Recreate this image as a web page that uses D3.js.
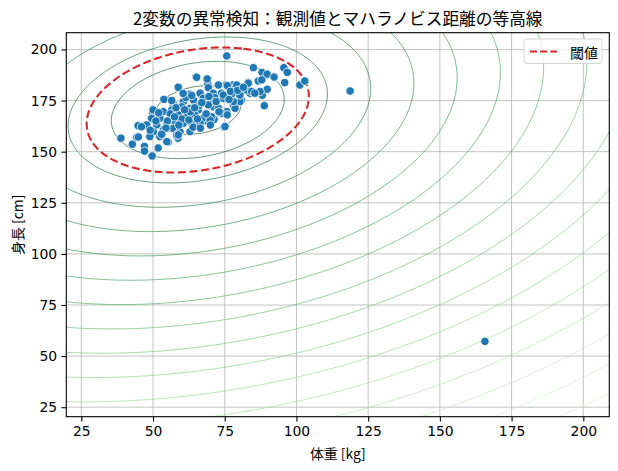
<!DOCTYPE html>
<html>
<head>
<meta charset="utf-8">
<script src="https://cdn.jsdelivr.net/npm/d3@7"></script>
<style>
  body { margin: 0; background: #fff; }
  svg { display: block; }
  text { font-family: "DejaVu Sans", "Noto Sans CJK JP", sans-serif; }
</style>
</head>
<body>
<div id="chart"></div>
<script>
const weightKg = [
  38.8, 42.8, 44.3, 44.9, 47.0, 47.0, 49.7, 51.8, 44.8, 47.8, 49.9, 49.9, 53.8, 58.8, 65.0, 68.8,
  69.1, 75.7, 75.4, 77.9, 74.8, 71.3, 68.7, 58.7, 58.7, 55.3, 52.2, 85.0, 88.0, 89.8, 92.2, 95.6,
  96.8, 95.9, 101.2, 102.9, 88.1, 88.8, 89.8, 86.7, 82.9, 83.8, 80.9, 78.0, 75.1, 71.0,
  65.2, 68.9, 72.8, 75.9, 79.2, 83.2, 87.9, 69.3, 62.9, 66.4, 70.4, 73.9, 77.4, 80.3, 82.6, 84.4,
  87.3, 57.1, 60.6, 64.1, 67.5, 70.4, 74.5, 80.3, 50.1, 53.6, 56.5, 60.0, 62.9, 65.8, 69.3, 72.8,
  75.7, 78.6, 49.5, 52.4, 55.9, 58.8, 61.7, 64.6, 67.5, 70.4, 73.9, 75.9, 47.8, 51.3, 54.8, 57.7,
  60.6, 63.5, 66.4, 69.9, 50.1, 53.6, 57.1, 59.4, 62.9, 75.1, 48.9, 52.4, 58.2, 46.0,
  71.0, 74.5, 78.0, 80.3, 83.2, 85.5, 58.8, 54.8, 60.0, 63.0, 66.0, 56.0, 61.5, 71.5, 64.0, 58.0,
  52.0, 55.0, 57.5, 59.0, 61.0, 62.5, 64.5, 65.5, 67.0, 68.5, 69.5, 72.0, 73.0, 76.5, 77.0, 79.5,
  81.5, 63.5, 60.5, 56.5, 54.5, 51.0, 49.0, 53.0, 66.5, 70.0,
  118.7, 165.7
];
const heightCm = [
  156.6, 153.6, 157.0, 157.2, 152.6, 150.3, 147.9, 151.8, 162.7, 162.6, 170.7, 168.8, 175.6, 181.5, 186.4, 185.4,
  183.0, 196.8, 182.6, 182.6, 162.1, 165.8, 165.0, 156.6, 158.6, 154.7, 157.7, 191.1, 188.8, 187.9, 186.5, 191.1,
  188.8, 183.8, 182.6, 184.6, 177.6, 172.5, 180.5, 184.6, 183.4, 178.6, 175.3, 172.9, 169.1, 172.0,
  186.4, 185.6, 182.6, 182.3, 182.6, 183.9, 185.1, 181.3, 178.1, 178.6, 178.1, 178.6, 178.1, 176.9, 180.2, 179.4,
  179.4, 173.2, 174.5, 175.3, 176.1, 174.5, 176.1, 174.5, 170.4, 169.6, 170.4, 172.0, 171.2, 170.4, 172.9, 171.2,
  169.6, 171.2, 166.3, 166.3, 166.3, 168.0, 167.1, 168.0, 166.3, 167.1, 168.8, 168.0, 163.1, 163.1, 163.9, 164.7,
  163.9, 163.9, 163.9, 165.5, 159.8, 160.6, 161.4, 159.8, 159.8, 162.3, 157.4, 157.4, 158.1, 162.2,
  178.6, 177.7, 174.5, 177.7, 183.5, 178.6, 158.2, 154.9, 166.0, 169.5, 172.5, 168.5, 176.5, 176.5, 162.0, 171.5,
  169.0, 165.0, 167.0, 163.0, 170.5, 165.5, 171.5, 166.0, 174.0, 168.5, 177.0, 174.5, 169.5, 175.5, 179.5, 180.0,
  181.5, 177.5, 178.5, 175.0, 161.5, 165.0, 160.5, 158.5, 161.5, 163.0,
  179.7, 57.2
];

// fitted distribution (mean, std dev, correlation) and distance levels
const meanVec = [65.6, 170.4];
const sdVec = [15.07, 11.9];
const corr = 0.22;
const levels = [1, 2, 3, 4, 5, 6, 7, 8, 9, 10, 11, 12, 13, 14, 15, 16, 17, 18, 19, 20];
const threshold = 2.57;

const xTicks = [25, 50, 75, 100, 125, 150, 175, 200];
const yTicks = [25, 50, 75, 100, 125, 150, 175, 200];
const xDomain = [19.77, 209.06];
const yDomain = [20.35, 208.2];

const fullWidth = 618;
const fullHeight = 471;
const margin = { top: 32.7, right: 8.7, bottom: 54.3, left: 66.3 };
const width = fullWidth - margin.left - margin.right;
const height = fullHeight - margin.top - margin.bottom;

const svg = d3
  .select("#chart")
  .append("svg")
  .attr("width", fullWidth)
  .attr("height", fullHeight);

const g = svg.append("g").attr("transform", `translate(${margin.left}, ${margin.top})`);

const x = d3.scaleLinear().domain(xDomain).range([0, width]);
const y = d3.scaleLinear().domain(yDomain).range([height, 0]);

g.append("clipPath")
  .attr("id", "plot-clip")
  .append("rect")
  .attr("width", width)
  .attr("height", height);

// grid
g.append("g")
  .selectAll("line")
  .data(xTicks)
  .join("line")
  .attr("x1", d => x(d))
  .attr("x2", d => x(d))
  .attr("y1", 0)
  .attr("y2", height)
  .attr("stroke", "#b0b0b0")
  .attr("stroke-opacity", 0.75)
  .attr("stroke-width", 1);
g.append("g")
  .selectAll("line")
  .data(yTicks)
  .join("line")
  .attr("y1", d => y(d))
  .attr("y2", d => y(d))
  .attr("x1", 0)
  .attr("x2", width)
  .attr("stroke", "#b0b0b0")
  .attr("stroke-opacity", 0.75)
  .attr("stroke-width", 1);

// mahalanobis distance on a grid a bit larger than the axes
const mahal = (vx, vy) => {
  const zx = (vx - meanVec[0]) / sdVec[0];
  const zy = (vy - meanVec[1]) / sdVec[1];
  return Math.sqrt((zx * zx - 2 * corr * zx * zy + zy * zy) / (1 - corr * corr));
};

const nx = 260, ny = 260;
const gx0 = 5, gx1 = 225, gy0 = 5, gy1 = 225;
const stepX = (gx1 - gx0) / (nx - 1);
const stepY = (gy1 - gy0) / (ny - 1);
const values = new Float64Array(nx * ny);
for (let j = 0; j < ny; j++) {
  for (let i = 0; i < nx; i++) {
    values[j * nx + i] = -mahal(gx0 + i * stepX, gy0 + j * stepY);
  }
}

const gridPath = d3.geoPath(
  d3.geoTransform({
    point: function(px, py) {
      this.stream.point(x(gx0 + (px - 0.5) * stepX), y(gy0 + (py - 0.5) * stepY));
    }
  })
);

const contourGen = d3.contours().size([nx, ny]);
const levelColor = l => d3.interpolateGreens(1 - (l - levels[0]) / (levels[levels.length - 1] - levels[0]));

const plot = g.append("g").attr("clip-path", "url(#plot-clip)");

plot
  .append("g")
  .selectAll("path")
  .data(levels)
  .join("path")
  .attr("d", l => gridPath(contourGen.contour(values, -l)))
  .attr("fill", "none")
  .attr("stroke", l => levelColor(l))
  .attr("stroke-opacity", 0.72)
  .attr("stroke-width", 0.85);

plot
  .append("path")
  .attr("d", gridPath(contourGen.contour(values, -threshold)))
  .attr("fill", "none")
  .attr("stroke", "#d62728")
  .attr("stroke-width", 2.1)
  .attr("stroke-dasharray", "8,3.6");

// observations
const points = weightKg.map((w, i) => ({ w, h: heightCm[i] }));
g.append("g")
  .selectAll("circle")
  .data(points)
  .join("circle")
  .attr("cx", d => x(d.w))
  .attr("cy", d => y(d.h))
  .attr("r", 4.2)
  .attr("fill", "#1f77b4")
  .attr("stroke", "#fff")
  .attr("stroke-width", 0.8);

// axes
const xAxis = g
  .append("g")
  .attr("transform", `translate(0, ${height})`)
  .call(d3.axisBottom(x).tickValues(xTicks).tickSize(4.9).tickPadding(4.2).tickSizeOuter(0));
const yAxis = g
  .append("g")
  .call(d3.axisLeft(y).tickValues(yTicks).tickSize(4.9).tickPadding(4.2).tickSizeOuter(0));
[xAxis, yAxis].forEach(a => {
  a.select(".domain").remove();
  a.selectAll("line").attr("stroke", "#000").attr("stroke-width", 1.1);
  a.selectAll("text")
    .attr("font-size", 13.9)
    .attr("fill", "#000")
    .style("font-family", '"DejaVu Sans", "Noto Sans CJK JP", sans-serif');
});

g.append("rect")
  .attr("width", width)
  .attr("height", height)
  .attr("fill", "none")
  .attr("stroke", "#000")
  .attr("stroke-width", 1.1);

// labels
svg
  .append("text")
  .attr("x", margin.left + width / 2)
  .attr("y", 18)
  .attr("text-anchor", "middle")
  .attr("dominant-baseline", "central")
  .attr("font-size", 16.7)
  .style("font-family", '"Noto Sans CJK JP", sans-serif')
  .text("2変数の異常検知：観測値とマハラノビス距離の等高線");

svg
  .append("text")
  .attr("x", margin.left + width / 2)
  .attr("y", 453)
  .attr("text-anchor", "middle")
  .attr("dominant-baseline", "central")
  .attr("font-size", 13.9)
  .style("font-family", '"Noto Sans CJK JP", sans-serif')
  .text("体重 [kg]");

svg
  .append("text")
  .attr("transform", `translate(17, ${margin.top + height / 2}) rotate(-90)`)
  .attr("text-anchor", "middle")
  .attr("dominant-baseline", "central")
  .attr("font-size", 13.9)
  .style("font-family", '"Noto Sans CJK JP", sans-serif')
  .text("身長 [cm]");

// legend
const legend = svg.append("g").attr("transform", "translate(524, 39)");
legend
  .append("rect")
  .attr("width", 78)
  .attr("height", 24.5)
  .attr("rx", 3)
  .attr("fill", "#fff")
  .attr("fill-opacity", 0.8)
  .attr("stroke", "#d6d6d6")
  .attr("stroke-width", 1);
legend
  .append("line")
  .attr("x1", 6)
  .attr("x2", 33)
  .attr("y1", 12.5)
  .attr("y2", 12.5)
  .attr("stroke", "#d62728")
  .attr("stroke-width", 2.1)
  .attr("stroke-dasharray", "7,3.2");
legend
  .append("text")
  .attr("x", 46)
  .attr("y", 12.5)
  .attr("dominant-baseline", "central")
  .attr("font-size", 13.9)
  .style("font-family", '"Noto Sans CJK JP", sans-serif')
  .text("閾値");
</script>
</body>
</html>
